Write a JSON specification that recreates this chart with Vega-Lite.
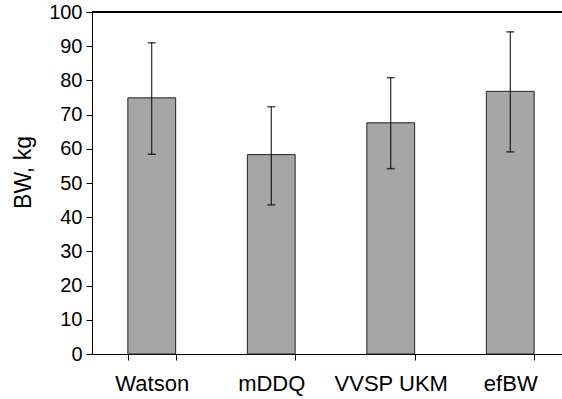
{
  "$schema": "https://vega.github.io/schema/vega-lite/v6.json",
  "autosize": "none",
  "width": 470,
  "height": 342,
  "padding": {"left": 92, "top": 12, "right": 0, "bottom": 45},
  "background": "white",
  "config": {
    "view": {"stroke": null},
    "font": "Liberation Sans",
    "axisY": {
      "grid": false,
      "labelFont": "Liberation Sans",
      "labelFontSize": 20,
      "labelColor": "black",
      "labelPadding": 4,
      "labelOverlap": false,
      "tickSize": 6,
      "tickColor": "black",
      "domainColor": "black",
      "titleFont": "Liberation Sans",
      "titleFontSize": 23,
      "titleFontWeight": "normal",
      "titleColor": "black",
      "titlePadding": 13,
      "titleY": 160
    }
  },
  "data": {
    "values": [
      {"method": "Watson", "mean": 74.9, "lo": 58.4, "hi": 91.0},
      {"method": "mDDQ", "mean": 58.3, "lo": 43.6, "hi": 72.3},
      {"method": "VVSP UKM", "mean": 67.6, "lo": 54.2, "hi": 80.8},
      {"method": "efBW", "mean": 76.8, "lo": 59.1, "hi": 94.2}
    ]
  },
  "layer": [
    {
      "mark": {"type": "bar", "color": "#a6a6a6", "stroke": "#222222", "strokeWidth": 1},
      "encoding": {
        "x": {
          "field": "method",
          "type": "nominal",
          "sort": null,
          "scale": {"range": [0, 478], "paddingInner": 0.6, "paddingOuter": 0.3},
          "axis": {
            "title": null,
            "labelAngle": 0,
            "labelFont": "Liberation Sans",
            "labelFontSize": 22,
            "labelColor": "black",
            "labelPadding": 13,
            "tickBand": "extent",
            "tickSize": 6,
            "tickColor": "black",
            "domainColor": "black",
            "domainWidth": 1
          }
        },
        "y": {
          "field": "mean",
          "type": "quantitative",
          "title": "BW, kg",
          "scale": {"domain": [0, 100], "nice": false},
          "axis": {"values": [0, 10, 20, 30, 40, 50, 60, 70, 80, 90, 100], "title": "BW, kg"}
        }
      }
    },
    {
      "mark": {"type": "rule", "color": "black", "strokeWidth": 1},
      "encoding": {
        "x": {"field": "method", "type": "nominal", "sort": null},
        "y": {"field": "lo", "type": "quantitative", "title": "BW, kg", "axis": {"values": [0, 10, 20, 30, 40, 50, 60, 70, 80, 90, 100], "title": "BW, kg"}},
        "y2": {"field": "hi"}
      }
    },
    {
      "mark": {"type": "tick", "color": "black", "size": 8, "thickness": 1.5},
      "encoding": {
        "x": {"field": "method", "type": "nominal", "sort": null},
        "y": {"field": "hi", "type": "quantitative", "title": "BW, kg", "axis": {"values": [0, 10, 20, 30, 40, 50, 60, 70, 80, 90, 100], "title": "BW, kg"}}
      }
    },
    {
      "mark": {"type": "tick", "color": "black", "size": 8, "thickness": 1.5},
      "encoding": {
        "x": {"field": "method", "type": "nominal", "sort": null},
        "y": {"field": "lo", "type": "quantitative", "title": "BW, kg", "axis": {"values": [0, 10, 20, 30, 40, 50, 60, 70, 80, 90, 100], "title": "BW, kg"}}
      }
    },
    {
      "mark": {"type": "rule", "color": "black", "strokeWidth": 1.5},
      "encoding": {
        "y": {"datum": 100, "title": "BW, kg", "axis": {"values": [0, 10, 20, 30, 40, 50, 60, 70, 80, 90, 100], "title": "BW, kg"}}
      }
    }
  ]
}
